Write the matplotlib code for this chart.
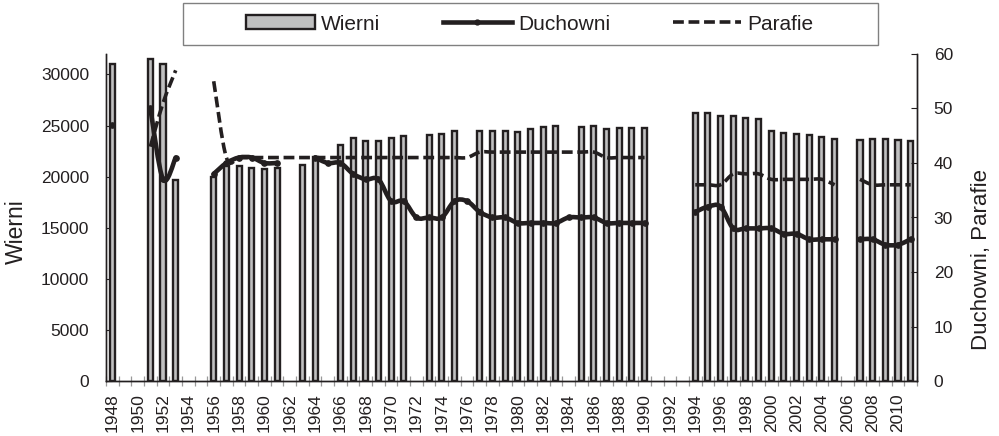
import numpy as np
import matplotlib
matplotlib.use("Agg")
import matplotlib.pyplot as plt
from matplotlib.patches import Patch, Rectangle, PathPatch
from matplotlib.lines import Line2D
from matplotlib.path import Path

plt.rcParams['font.family'] = ['Liberation Sans', 'DejaVu Sans']

nan = np.nan
years = list(range(1948, 2012))

wierni = [31000, nan, nan, 31500, 31000, 19700, nan, nan, 20000, 21000,
          21000, 20800, 20700, 20850, nan, 21100, 21900, nan, 23100, 23800,
          23500, 23500, 23800, 24000, nan, 24100, 24200, 24500, nan, 24500,
          24500, 24500, 24400, 24700, 24900, 25000, nan, 24900, 25000, 24700,
          24800, 24800, 24800, nan, nan, nan, 26200, 26200, 25900, 25900,
          25700, 25600, 24500, 24300, 24200, 24100, 23900, 23700, nan, 23600,
          23700, 23700, 23600, 23500]

duchowni = [47, nan, nan, 50, 37, 41, nan, nan, 38, 40,
            41, 41, 40, 40, nan, nan, 41, 40, 40, 38,
            37, 37, 33, 33, 30, 30, 30, 33, 33, 31,
            30, 30, 29, 29, 29, 29, 30, 30, 30, 29,
            29, 29, 29, nan, nan, nan, 31, 32, 32, 28,
            28, 28, 28, 27, 27, 26, 26, 26, nan, 26,
            26, 25, 25, 26]

parafie = [nan, nan, nan, 43, 51, 57, nan, nan, 55, 41,
           41, 41, 41, 41, 41, 41, 41, 41, 41, 41,
           41, 41, 41, 41, 41, 41, 41, 41, 41, 42,
           42, 42, 42, 42, 42, 42, 42, 42, 42, 41,
           41, 41, 41, nan, nan, nan, 36, 36, 36, 38,
           38, 38, 37, 37, 37, 37, 37, 36, nan, 37,
           36, 36, 36, 36]

left_ticks = [0, 5000, 10000, 15000, 20000, 25000, 30000]
right_ticks = [0, 10, 20, 30, 40, 50, 60]

ink = '#231f20'
W, H = 999, 436


def smooth_paths(xs, ys):
    """Excel-style smoothed segments (cubic Bezier) through each run of valid points."""
    xs = np.asarray(xs, float)
    ys = np.asarray(ys, float)
    ok = ~np.isnan(ys)
    paths = []
    i = 0
    n = len(ys)
    while i < n:
        if not ok[i]:
            i += 1
            continue
        j = i
        while j + 1 < n and ok[j + 1]:
            j += 1
        px, py = xs[i:j + 1], ys[i:j + 1]
        if len(px) >= 2:
            verts = [(px[0], py[0])]
            codes = [Path.MOVETO]
            m = len(px)
            for k in range(m - 1):
                p0 = (px[max(k - 1, 0)], py[max(k - 1, 0)])
                p1 = (px[k], py[k])
                p2 = (px[k + 1], py[k + 1])
                p3 = (px[min(k + 2, m - 1)], py[min(k + 2, m - 1)])
                c1 = (p1[0] + (p2[0] - p0[0]) / 6, p1[1] + (p2[1] - p0[1]) / 6)
                c2 = (p2[0] - (p3[0] - p1[0]) / 6, p2[1] - (p3[1] - p1[1]) / 6)
                verts += [c1, c2, p2]
                codes += [Path.CURVE4] * 3
            paths.append(Path(verts, codes))
        i = j + 1
    return paths


fig = plt.figure(figsize=(W / 100, H / 100), dpi=100)
ax = fig.add_axes([106 / W, 1 - 381 / H, (917 - 106) / W, (381 - 54) / H])
ax2 = ax.twinx()

x = np.arange(len(years))
ax.bar(x, wierni, width=0.4, color='#c0c0c0', edgecolor=ink, linewidth=1.7, zorder=2)
ax.set_xlim(-0.5, len(years) - 0.5)
ax.set_ylim(0, 32000)
ax.set_yticks(left_ticks)
ax.set_yticklabels([str(t) for t in left_ticks])

ax.set_xticks(x[::2])
ax.set_xticklabels([str(y) for y in years[::2]], rotation=90)
ax.set_xticks(np.arange(-0.5, len(years), 1), minor=True)
ax.tick_params(axis='x', which='major', length=0, pad=9, labelsize=12.5, colors=ink)
ax.tick_params(axis='x', which='minor', length=7, direction='inout', width=0.9, color='#999999')
ax.tick_params(axis='y', direction='in', length=4, labelsize=12.5, colors=ink, pad=12)

for p in smooth_paths(x, duchowni):
    ax2.add_patch(PathPatch(p, facecolor='none', edgecolor=ink, lw=3.3,
                            joinstyle='round', capstyle='round', zorder=4))
ax2.plot(x, duchowni, linestyle='none', color=ink, marker='o', markersize=3.8, zorder=5)
for p in smooth_paths(x, parafie):
    ax2.add_patch(PathPatch(p, facecolor='none', edgecolor=ink, lw=2.6,
                            linestyle=(0, (3, 1.3)), capstyle='butt', zorder=3))
ax2.set_ylim(0, 60)
ax2.set_yticks(right_ticks)
ax2.tick_params(axis='y', direction='in', length=4, labelsize=12.5, colors=ink, pad=12)

for a in (ax, ax2):
    a.spines['top'].set_visible(False)
    for s in ('left', 'right', 'bottom'):
        a.spines[s].set_color(ink)
        a.spines[s].set_linewidth(1.0)

fig.text(16 / W, 1 - 232 / H, 'Wierni', rotation=90, ha='center', va='center',
         fontsize=16.5, color=ink)
fig.text(982 / W, 1 - 260 / H, 'Duchowni, Parafie', rotation=90, ha='center',
         va='center', fontsize=16, color=ink)

# legend frame
fig.patches.append(Rectangle((183 / W, 1 - 45 / H), (878 - 183) / W, 42 / H,
                             transform=fig.transFigure, facecolor='white',
                             edgecolor='#808080', linewidth=1.0, zorder=0))
handles = [Patch(facecolor='#c0c0c0', edgecolor=ink, linewidth=1.7),
           Line2D([], [], color=ink, lw=3.3, marker='o', markersize=3.5),
           Line2D([], [], color=ink, lw=2.6, dashes=(3, 1.3))]
leg = fig.legend(handles, ['Wierni', 'Duchowni', 'Parafie'], ncol=3,
                 loc='center', bbox_to_anchor=(530 / W, 1 - 24 / H),
                 frameon=False, fontsize=15, handlelength=3.3,
                 columnspacing=3.0, handletextpad=0.3, borderaxespad=0,
                 labelcolor=ink)

fig.savefig('out.png', dpi=100)
